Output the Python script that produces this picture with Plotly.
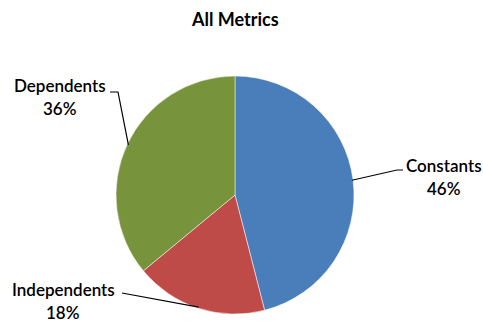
import math
import plotly.graph_objects as go

# ---- data ----
labels = ["Constants", "Independents", "Dependents"]
values = [46, 18, 36]
colors = ["#4A7EBB", "#BE4B48", "#77933C"]
title = "All Metrics"

# ---- layout (pixels) ----
W, H = 483, 324
cx, cy, r = 235, 195, 119
# label centers and leader-line elbow points (pixel layout)
label_pos = [(444, 177), (63, 301), (60, 97)]
line_gap = 23
elbows = [[(397, 170), (403, 170)], [(122, 293)], [(118, 92), (110, 92)]]

def px(x):
    return x / W

def py(y):
    return 1 - y / H

fig = go.Figure(go.Pie(
    labels=labels, values=values, sort=False, direction="clockwise", rotation=0,
    marker=dict(colors=colors, line=dict(color="white", width=0.5)),
    textinfo="none", hoverinfo="label+percent", showlegend=False,
    domain=dict(x=[px(cx - r), px(cx + r)], y=[py(cy + r), py(cy - r)]),
))

total = sum(values)
shapes = []
annotations = []
cum = 0
font = dict(family="Lato", size=17, color="black", weight=600)
for i, v in enumerate(values):
    mid = (cum + v / 2) / total * 2 * math.pi
    cum += v
    ax = cx + r * 0.99 * math.sin(mid)
    ay = cy - r * 0.99 * math.cos(mid)
    pts = [(ax, ay)] + elbows[i]
    path = "M " + " L ".join(f"{px(x):.5f},{py(y):.5f}" for x, y in pts)
    shapes.append(dict(type="path", xref="paper", yref="paper", path=path,
                       line=dict(color="black", width=1.2)))
    pct = round(v / total * 100)
    lx, ly = label_pos[i]
    for txt, yy in ((labels[i], ly - line_gap / 2), (f"{pct}%", ly + line_gap / 2)):
        annotations.append(dict(
            x=px(lx), y=py(yy), xref="paper", yref="paper", showarrow=False,
            text=txt, xanchor="center", yanchor="middle", font=font,
        ))

annotations.append(dict(
    x=px(235), y=py(19), xref="paper", yref="paper", showarrow=False,
    text=f"<b>{title}</b>", xanchor="center", yanchor="middle",
    font=dict(family="Lato", size=18, color="black"),
))

fig.update_layout(
    width=W, height=H, margin=dict(l=0, r=0, t=0, b=0),
    paper_bgcolor="white", plot_bgcolor="white",
    shapes=shapes, annotations=annotations,
)
fig.write_html("out.html")
